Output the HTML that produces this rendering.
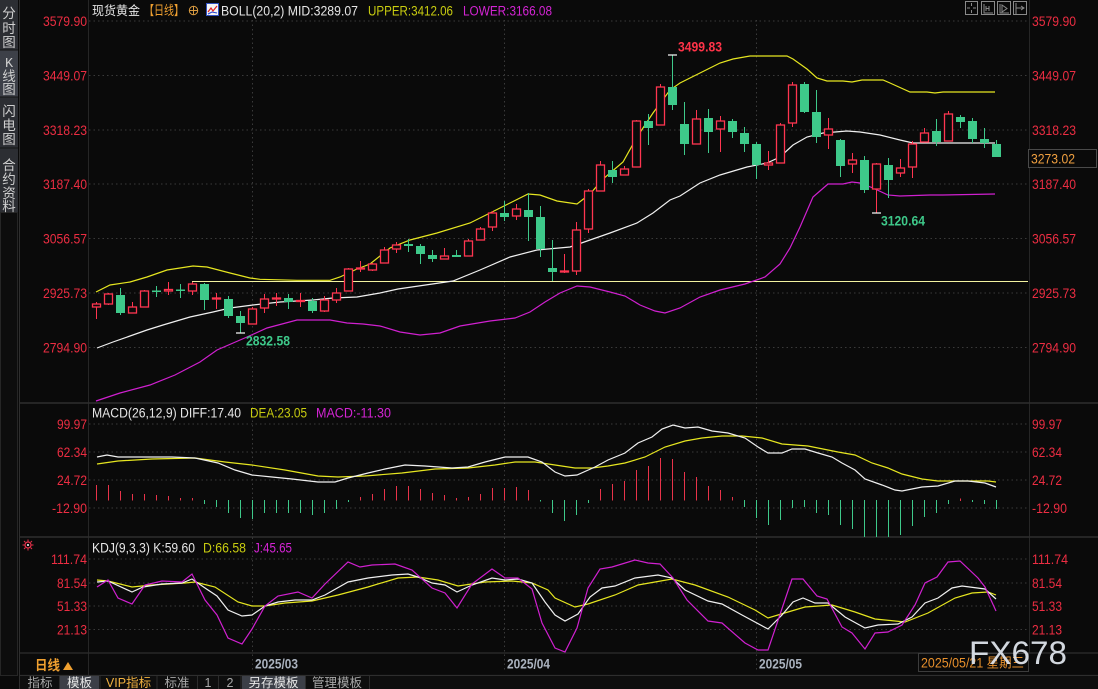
<!DOCTYPE html>
<html><head><meta charset="utf-8"><style>
html,body{margin:0;padding:0;background:#0a0a0a;}
svg{display:block;}
text{font-family:"Liberation Sans","Noto Sans CJK SC",sans-serif;}
.ax{fill:#ec2d42;font-size:14px;}
.gr{stroke:#3a3a3a;stroke-width:1;stroke-dasharray:1.5,3;}
.g rect{fill:#3ec98a;} .g line{stroke:#3ec98a;stroke-width:1;}
.r rect{fill:#0a0a0a;stroke:#ff3550;stroke-width:1.3;} .r line{stroke:#ff3550;stroke-width:1;}
.hr line{stroke:#e8334a;stroke-width:1;} .hg line{stroke:#3ec98a;stroke-width:1;}
.sb{fill:#cfcfcf;font-size:13.5px;text-anchor:middle;}
.tab{font-size:12.5px;text-anchor:middle;fill:#a8a8a8;}
</style></head><body>
<svg width="1098" height="689" viewBox="0 0 1098 689" xmlns="http://www.w3.org/2000/svg">
<rect x="0" y="0" width="1098" height="689" fill="#0a0a0a"/>

<!-- sidebar -->
<rect x="0" y="0" width="18" height="50" fill="#2c2e33"/>
<rect x="0" y="50" width="18" height="47" fill="#3d4048"/>
<rect x="0" y="97" width="18" height="51" fill="#2c2e33"/>
<rect x="0" y="148" width="18" height="64" fill="#2c2e33"/>
<line x1="0" y1="50" x2="18" y2="50" stroke="#151515"/>
<line x1="0" y1="97" x2="18" y2="97" stroke="#151515"/>
<line x1="0" y1="148" x2="18" y2="148" stroke="#151515"/>
<rect x="0.5" y="212.5" width="17" height="463" fill="#0d0d0d" stroke="#262626"/>
<line x1="19.5" y1="0" x2="19.5" y2="689" stroke="#2e2e2e"/>
<text class="sb" x="9" y="18">分</text><text class="sb" x="9" y="33">时</text><text class="sb" x="9" y="47">图</text>
<text class="sb" x="9" y="67" style="font-family:'Liberation Mono',monospace">K</text><text class="sb" x="9" y="81">线</text><text class="sb" x="9" y="94">图</text>
<text class="sb" x="9" y="116">闪</text><text class="sb" x="9" y="130">电</text><text class="sb" x="9" y="144">图</text>
<text class="sb" x="9" y="170">合</text><text class="sb" x="9" y="184">约</text><text class="sb" x="9" y="198">资</text><text class="sb" x="9" y="211">料</text>

<!-- panel borders -->
<line x1="88.5" y1="0" x2="88.5" y2="675" stroke="#262626"/>
<line x1="1029.5" y1="0" x2="1029.5" y2="653" stroke="#262626"/>
<line x1="19" y1="403" x2="1098" y2="403" stroke="#2e2e2e" stroke-width="1.5"/>
<line x1="19" y1="537" x2="1098" y2="537" stroke="#2e2e2e" stroke-width="1.5"/>
<line x1="19" y1="653" x2="1098" y2="653" stroke="#2e2e2e" stroke-width="1.2"/>
<line x1="19" y1="675.5" x2="1098" y2="675.5" stroke="#2e2e2e" stroke-width="1.2"/>

<!-- gridlines -->
<g class="gr">
<line x1="89" y1="21" x2="1029" y2="21"/>
<line x1="89" y1="75.5" x2="1029" y2="75.5"/>
<line x1="89" y1="130" x2="1029" y2="130"/>
<line x1="89" y1="184" x2="1029" y2="184"/>
<line x1="89" y1="238.5" x2="1029" y2="238.5"/>
<line x1="89" y1="293" x2="1029" y2="293"/>
<line x1="89" y1="347.5" x2="1029" y2="347.5"/>
<line x1="89" y1="424" x2="1029" y2="424"/>
<line x1="89" y1="452" x2="1029" y2="452"/>
<line x1="89" y1="480" x2="1029" y2="480"/>
<line x1="89" y1="508" x2="1029" y2="508"/>
<line x1="89" y1="559" x2="1029" y2="559"/>
<line x1="89" y1="583" x2="1029" y2="583"/>
<line x1="89" y1="606" x2="1029" y2="606"/>
<line x1="89" y1="629.5" x2="1029" y2="629.5"/>
<line x1="252.5" y1="20" x2="252.5" y2="672"/>
<line x1="504.5" y1="20" x2="504.5" y2="672"/>
<line x1="756.5" y1="20" x2="756.5" y2="672"/>
</g>

<!-- axis labels left -->
<g class="ax" text-anchor="end" lengthAdjust="spacingAndGlyphs">
<text x="87" y="26" textLength="44" lengthAdjust="spacingAndGlyphs">3579.90</text><text x="87" y="80.5" textLength="44" lengthAdjust="spacingAndGlyphs">3449.07</text><text x="87" y="135" textLength="44" lengthAdjust="spacingAndGlyphs">3318.23</text>
<text x="87" y="189" textLength="44" lengthAdjust="spacingAndGlyphs">3187.40</text><text x="87" y="243.5" textLength="44" lengthAdjust="spacingAndGlyphs">3056.57</text><text x="87" y="298" textLength="44" lengthAdjust="spacingAndGlyphs">2925.73</text><text x="87" y="352.5" textLength="44" lengthAdjust="spacingAndGlyphs">2794.90</text>
<text x="87" y="429" textLength="30" lengthAdjust="spacingAndGlyphs">99.97</text><text x="87" y="457" textLength="30" lengthAdjust="spacingAndGlyphs">62.34</text><text x="87" y="485" textLength="30" lengthAdjust="spacingAndGlyphs">24.72</text><text x="87" y="513" textLength="35" lengthAdjust="spacingAndGlyphs">-12.90</text>
<text x="87" y="564" textLength="36" lengthAdjust="spacingAndGlyphs">111.74</text><text x="87" y="588" textLength="30" lengthAdjust="spacingAndGlyphs">81.54</text><text x="87" y="611" textLength="30" lengthAdjust="spacingAndGlyphs">51.33</text><text x="87" y="634.5" textLength="30" lengthAdjust="spacingAndGlyphs">21.13</text>
</g>
<!-- axis labels right -->
<g class="ax">
<text x="1032" y="26" textLength="44" lengthAdjust="spacingAndGlyphs">3579.90</text><text x="1032" y="80.5" textLength="44" lengthAdjust="spacingAndGlyphs">3449.07</text><text x="1032" y="135" textLength="44" lengthAdjust="spacingAndGlyphs">3318.23</text>
<text x="1032" y="189" textLength="44" lengthAdjust="spacingAndGlyphs">3187.40</text><text x="1032" y="243.5" textLength="44" lengthAdjust="spacingAndGlyphs">3056.57</text><text x="1032" y="298" textLength="44" lengthAdjust="spacingAndGlyphs">2925.73</text><text x="1032" y="352.5" textLength="44" lengthAdjust="spacingAndGlyphs">2794.90</text>
<text x="1032" y="429" textLength="30" lengthAdjust="spacingAndGlyphs">99.97</text><text x="1032" y="457" textLength="30" lengthAdjust="spacingAndGlyphs">62.34</text><text x="1032" y="485" textLength="30" lengthAdjust="spacingAndGlyphs">24.72</text><text x="1032" y="513" textLength="35" lengthAdjust="spacingAndGlyphs">-12.90</text>
<text x="1032" y="564" textLength="36" lengthAdjust="spacingAndGlyphs">111.74</text><text x="1032" y="588" textLength="30" lengthAdjust="spacingAndGlyphs">81.54</text><text x="1032" y="611" textLength="30" lengthAdjust="spacingAndGlyphs">51.33</text><text x="1032" y="634.5" textLength="30" lengthAdjust="spacingAndGlyphs">21.13</text>
</g>
<rect x="1028.5" y="149.5" width="68" height="18" fill="#0a0a0a" stroke="#4a4a4a"/>
<text x="1031" y="163.5" style="font-size:14px;fill:#f0a040" textLength="44" lengthAdjust="spacingAndGlyphs">3273.02</text>

<!-- title -->
<text x="92" y="15" style="font-size:12.5px;fill:#e6e6e6" textLength="48" lengthAdjust="spacingAndGlyphs">现货黄金</text>
<text x="144" y="15" style="font-size:13px;fill:#f0a030" textLength="40" lengthAdjust="spacingAndGlyphs">【日线】</text>
<circle cx="193.5" cy="10.5" r="4.2" fill="none" stroke="#d89a40" stroke-width="1"/>
<line x1="189" y1="10.5" x2="198" y2="10.5" stroke="#d89a40"/><line x1="193.5" y1="6" x2="193.5" y2="15" stroke="#d89a40"/>
<rect x="206.5" y="3.5" width="12" height="12" fill="#f4f4f4" stroke="#3050c0"/>
<polyline points="208,12 211,8 213,11 217,6" fill="none" stroke="#e02020" stroke-width="1.2"/>
<polyline points="208,14 212,12 217,13" fill="none" stroke="#2040d0" stroke-width="1"/>
<text x="221" y="15.5" style="font-size:13.5px;fill:#e6e6e6" textLength="137" lengthAdjust="spacingAndGlyphs">BOLL(20,2) MID:3289.07</text>
<text x="368" y="15.5" style="font-size:13.5px;fill:#c8cc10" textLength="85" lengthAdjust="spacingAndGlyphs">UPPER:3412.06</text>
<text x="463" y="15.5" style="font-size:13.5px;fill:#d424d4" textLength="89" lengthAdjust="spacingAndGlyphs">LOWER:3166.08</text>

<!-- top right icons -->
<g fill="none" stroke="#8a8a8a" stroke-width="1">
<rect x="965.5" y="1.5" width="12" height="13"/><rect x="981.5" y="1.5" width="13" height="13"/><rect x="997.5" y="1.5" width="13" height="13"/><rect x="1013.5" y="1.5" width="13" height="13"/>
<path d="M971.5 3v3M971.5 10v3M967 8h3M973 8h3"/>
<path d="M984 4v9h9M986 6v5M989 6v5M986 8.5h3"/>
<path d="M1000 4v9h9M1002 5l5 3.5-5 3.5z"/>
<path d="M1016 3v11M1016 8h8M1021 6l3 2-3 2"/>
</g>

<!-- horizontal line -->
<line x1="192" y1="281.5" x2="1028" y2="281.5" stroke="#f2f2a0" stroke-width="1"/>

<!-- Bollinger -->
<polyline fill="none" stroke="#e6e620" stroke-width="1.2" points="96,292 110,285 130,282 147,277 167,270 193,266 207,267 230,273 250,278 260,279.3 297,280.3 330,280.3 340,277 357,269 370,264 390,248 410,240 437,233 470,223 490,213 510,203 528,194 540,195 557,201 577,204 590,194 603,179 623,162 637,137 653,113 670,90 680,83 700,73 720,63 733,59 750,56 787,56 793,59 807,69 817,78 827,81 843,81 852,82 862,80 883,80 890,83 910,92 927,92 935,93 943,92 995,92"/>
<polyline fill="none" stroke="#f0f0f0" stroke-width="1.2" points="97,348 113,342 147,330 163,325 190,317 213,312 230,308 253,305 280,302 313,300 333,298 357,297 380,293 398,289 453,281 480,270 510,257 537,250 570,247 590,240 610,233 637,223 653,213 670,200 680,196 700,183 720,175 747,167 767,163 780,157 793,145 807,137 823,133 847,131 860,132 880,135 900,140 913,143 995,143"/>
<polyline fill="none" stroke="#d020d0" stroke-width="1.2" points="96,401 120,393 150,385 175,375 200,362 217,350 247,337 267,328 297,320 330,320 347,323 363,324 380,326 400,332 420,335 440,333 460,326 490,321 515,318 530,312 545,302 560,293 577,286 590,287 610,292 625,296 640,305 655,311 665,313 680,308 700,297 720,290 745,284 765,277 780,264 790,248 800,227 813,197 828,184 843,184 852,182 860,183 873,188 888,195 900,196 930,195 943,195 995,194"/>

<!-- candles green -->
<g class="g">
<line x1="120.5" y1="288" x2="120.5" y2="315"/><rect x="116" y="295" width="9" height="18"/>
<line x1="156.5" y1="286" x2="156.5" y2="297"/><rect x="152" y="290.5" width="9" height="1.5"/>
<line x1="180.5" y1="284" x2="180.5" y2="298"/><rect x="176" y="289.5" width="9" height="1.5"/>
<line x1="204.5" y1="283" x2="204.5" y2="310"/><rect x="200" y="284" width="9" height="16"/>
<line x1="228.5" y1="296" x2="228.5" y2="318"/><rect x="224" y="299" width="9" height="17"/>
<line x1="240.5" y1="311" x2="240.5" y2="333"/><rect x="236" y="316" width="9" height="7"/>
<line x1="288.5" y1="294" x2="288.5" y2="309"/><rect x="284" y="298" width="9" height="4"/>
<line x1="312.5" y1="298" x2="312.5" y2="313"/><rect x="308" y="301" width="9" height="10"/>
<line x1="408.5" y1="239" x2="408.5" y2="252"/><rect x="404" y="244" width="9" height="2"/>
<line x1="420.5" y1="244" x2="420.5" y2="264"/><rect x="416" y="246" width="9" height="8"/>
<line x1="432.5" y1="250" x2="432.5" y2="262"/><rect x="428" y="255" width="9" height="4"/>
<line x1="456.5" y1="250" x2="456.5" y2="257"/><rect x="452" y="255" width="9" height="2"/>
<line x1="504.5" y1="201" x2="504.5" y2="221"/><rect x="500" y="213" width="9" height="4"/>
<line x1="528.5" y1="193" x2="528.5" y2="241"/><rect x="524" y="210" width="9" height="7"/>
<line x1="540.5" y1="206" x2="540.5" y2="257"/><rect x="536" y="217" width="9" height="32"/>
<line x1="552.5" y1="240" x2="552.5" y2="281"/><rect x="548" y="268" width="9" height="4"/>
<line x1="612.5" y1="161" x2="612.5" y2="183"/><rect x="608" y="170" width="9" height="7"/>
<line x1="648.5" y1="114" x2="648.5" y2="145"/><rect x="644" y="121" width="9" height="7"/>
<line x1="672.5" y1="55" x2="672.5" y2="110"/><rect x="668" y="87" width="9" height="18"/>
<line x1="684.5" y1="102" x2="684.5" y2="155"/><rect x="680" y="124" width="9" height="20"/>
<line x1="708.5" y1="109" x2="708.5" y2="153"/><rect x="704" y="118" width="9" height="14"/>
<line x1="732.5" y1="119" x2="732.5" y2="138"/><rect x="728" y="121" width="9" height="11"/>
<line x1="744.5" y1="127" x2="744.5" y2="152"/><rect x="740" y="133" width="9" height="11"/>
<line x1="756.5" y1="142" x2="756.5" y2="179"/><rect x="752" y="144" width="9" height="21"/>
<line x1="804.5" y1="82" x2="804.5" y2="113"/><rect x="800" y="84" width="9" height="28"/>
<line x1="816.5" y1="90" x2="816.5" y2="143"/><rect x="812" y="112" width="9" height="25"/>
<line x1="840.5" y1="139" x2="840.5" y2="177"/><rect x="836" y="140" width="9" height="26"/>
<line x1="864.5" y1="156" x2="864.5" y2="193"/><rect x="860" y="160" width="9" height="30"/>
<line x1="888.5" y1="158" x2="888.5" y2="198"/><rect x="884" y="165" width="9" height="15"/>
<line x1="936.5" y1="119" x2="936.5" y2="146"/><rect x="932" y="131" width="9" height="11"/>
<line x1="960.5" y1="115" x2="960.5" y2="128"/><rect x="956" y="117" width="9" height="5"/>
<line x1="972.5" y1="118" x2="972.5" y2="143"/><rect x="968" y="121" width="9" height="18"/>
<line x1="984.5" y1="128" x2="984.5" y2="148"/><rect x="980" y="139" width="9" height="4"/>
<line x1="996.5" y1="140" x2="996.5" y2="157"/><rect x="992" y="144" width="9" height="13"/>
</g>
<!-- candles red -->
<g class="r">
<line x1="96.5" y1="302" x2="96.5" y2="319"/><rect x="92.5" y="304" width="8" height="3"/>
<line x1="108.5" y1="293" x2="108.5" y2="305"/><rect x="104.5" y="294" width="8" height="10"/>
<line x1="132.5" y1="302" x2="132.5" y2="313"/><rect x="128.5" y="307" width="8" height="6"/>
<line x1="144.5" y1="290" x2="144.5" y2="307"/><rect x="140.5" y="291" width="8" height="16"/>
<line x1="168.5" y1="282" x2="168.5" y2="295"/><rect x="164.5" y="289.5" width="8" height="1.5"/>
<line x1="192.5" y1="282" x2="192.5" y2="295"/><rect x="188.5" y="284" width="8" height="7"/>
<line x1="216.5" y1="293" x2="216.5" y2="309"/><rect x="212.5" y="298" width="8" height="1"/>
<line x1="252.5" y1="307" x2="252.5" y2="324"/><rect x="248.5" y="309" width="8" height="15"/>
<line x1="264.5" y1="294" x2="264.5" y2="313"/><rect x="260.5" y="299" width="8" height="9"/>
<line x1="276.5" y1="293" x2="276.5" y2="306"/><rect x="272.5" y="298" width="8" height="1"/>
<line x1="300.5" y1="293" x2="300.5" y2="307"/><rect x="296.5" y="300.5" width="8" height="1"/>
<line x1="324.5" y1="296" x2="324.5" y2="312"/><rect x="320.5" y="300" width="8" height="11"/>
<line x1="336.5" y1="288" x2="336.5" y2="303"/><rect x="332.5" y="293" width="8" height="7"/>
<line x1="348.5" y1="268" x2="348.5" y2="291"/><rect x="344.5" y="269" width="8" height="22"/>
<line x1="360.5" y1="261" x2="360.5" y2="272"/><rect x="356.5" y="268" width="8" height="1"/>
<line x1="372.5" y1="263" x2="372.5" y2="271"/><rect x="368.5" y="264" width="8" height="6"/>
<line x1="384.5" y1="247" x2="384.5" y2="263"/><rect x="380.5" y="250" width="8" height="13"/>
<line x1="396.5" y1="242" x2="396.5" y2="253"/><rect x="392.5" y="245" width="8" height="4"/>
<line x1="444.5" y1="248" x2="444.5" y2="259"/><rect x="440.5" y="256" width="8" height="3"/>
<line x1="468.5" y1="239" x2="468.5" y2="256"/><rect x="464.5" y="241" width="8" height="15"/>
<line x1="480.5" y1="227" x2="480.5" y2="240"/><rect x="476.5" y="229" width="8" height="11"/>
<line x1="492.5" y1="211" x2="492.5" y2="231"/><rect x="488.5" y="213" width="8" height="14"/>
<line x1="516.5" y1="204" x2="516.5" y2="220"/><rect x="512.5" y="209" width="8" height="7"/>
<line x1="564.5" y1="254" x2="564.5" y2="273"/><rect x="560.5" y="271" width="8" height="1"/>
<line x1="576.5" y1="222" x2="576.5" y2="275"/><rect x="572.5" y="230" width="8" height="41"/>
<line x1="588.5" y1="189" x2="588.5" y2="233"/><rect x="584.5" y="191" width="8" height="38"/>
<line x1="600.5" y1="161" x2="600.5" y2="191"/><rect x="596.5" y="165" width="8" height="26"/>
<line x1="624.5" y1="166" x2="624.5" y2="175"/><rect x="620.5" y="169" width="8" height="6"/>
<line x1="636.5" y1="120" x2="636.5" y2="167"/><rect x="632.5" y="121" width="8" height="46"/>
<line x1="660.5" y1="84" x2="660.5" y2="125"/><rect x="656.5" y="87" width="8" height="38"/>
<line x1="696.5" y1="110" x2="696.5" y2="144"/><rect x="692.5" y="119" width="8" height="25"/>
<line x1="720.5" y1="116" x2="720.5" y2="152"/><rect x="716.5" y="121" width="8" height="8"/>
<line x1="768.5" y1="151" x2="768.5" y2="170"/><rect x="764.5" y="163" width="8" height="2"/>
<line x1="780.5" y1="123" x2="780.5" y2="163"/><rect x="776.5" y="125" width="8" height="38"/>
<line x1="792.5" y1="82" x2="792.5" y2="127"/><rect x="788.5" y="85" width="8" height="38"/>
<line x1="828.5" y1="118" x2="828.5" y2="149"/><rect x="824.5" y="129" width="8" height="6"/>
<line x1="852.5" y1="153" x2="852.5" y2="173"/><rect x="848.5" y="160" width="8" height="4"/>
<line x1="876.5" y1="163" x2="876.5" y2="213"/><rect x="872.5" y="164" width="8" height="25"/>
<line x1="900.5" y1="159" x2="900.5" y2="177"/><rect x="896.5" y="168" width="8" height="5"/>
<line x1="912.5" y1="141" x2="912.5" y2="178"/><rect x="908.5" y="144" width="8" height="23"/>
<line x1="924.5" y1="128" x2="924.5" y2="142"/><rect x="920.5" y="133" width="8" height="9"/>
<line x1="948.5" y1="111" x2="948.5" y2="141"/><rect x="944.5" y="114" width="8" height="27"/>
</g>
<!-- markers -->
<g stroke="#ffffff" stroke-width="1.2">
<line x1="668" y1="55" x2="677" y2="55"/>
<line x1="236" y1="333" x2="245" y2="333"/>
<line x1="872" y1="213" x2="881" y2="213"/>
</g>
<text x="678" y="51.5" style="font-size:13.5px;fill:#ff3348;font-weight:bold" textLength="44" lengthAdjust="spacingAndGlyphs">3499.83</text>
<text x="246" y="345.5" style="font-size:13.5px;fill:#3ec98a;font-weight:bold" textLength="44" lengthAdjust="spacingAndGlyphs">2832.58</text>
<text x="881" y="225.5" style="font-size:13.5px;fill:#3ec98a;font-weight:bold" textLength="44" lengthAdjust="spacingAndGlyphs">3120.64</text>

<!-- MACD -->
<text x="92" y="417.5" style="font-size:13.5px;fill:#e6e6e6" textLength="149" lengthAdjust="spacingAndGlyphs">MACD(26,12,9) DIFF:17.40</text>
<text x="250" y="417.5" style="font-size:13.5px;fill:#c8cc10" textLength="57" lengthAdjust="spacingAndGlyphs">DEA:23.05</text>
<text x="316" y="417.5" style="font-size:13.5px;fill:#d424d4" textLength="75" lengthAdjust="spacingAndGlyphs">MACD:-11.30</text>
<g class="hr">
<line x1="96.5" y1="500.5" x2="96.5" y2="485"/><line x1="108.5" y1="500.5" x2="108.5" y2="485"/><line x1="120.5" y1="500.5" x2="120.5" y2="491"/>
<line x1="132.5" y1="500.5" x2="132.5" y2="494"/><line x1="144.5" y1="500.5" x2="144.5" y2="494"/><line x1="156.5" y1="500.5" x2="156.5" y2="495"/>
<line x1="168.5" y1="500.5" x2="168.5" y2="496"/><line x1="180.5" y1="500.5" x2="180.5" y2="498"/><line x1="192.5" y1="500.5" x2="192.5" y2="498"/>
<line x1="360.5" y1="500.5" x2="360.5" y2="497"/><line x1="372.5" y1="500.5" x2="372.5" y2="494"/><line x1="384.5" y1="500.5" x2="384.5" y2="489"/>
<line x1="396.5" y1="500.5" x2="396.5" y2="486"/><line x1="408.5" y1="500.5" x2="408.5" y2="486"/><line x1="420.5" y1="500.5" x2="420.5" y2="489"/>
<line x1="432.5" y1="500.5" x2="432.5" y2="493"/><line x1="444.5" y1="500.5" x2="444.5" y2="495"/><line x1="456.5" y1="500.5" x2="456.5" y2="498"/>
<line x1="468.5" y1="500.5" x2="468.5" y2="497"/><line x1="480.5" y1="500.5" x2="480.5" y2="494"/><line x1="492.5" y1="500.5" x2="492.5" y2="488"/>
<line x1="504.5" y1="500.5" x2="504.5" y2="488"/><line x1="516.5" y1="500.5" x2="516.5" y2="487"/><line x1="528.5" y1="500.5" x2="528.5" y2="490"/>
<line x1="600.5" y1="500.5" x2="600.5" y2="489"/><line x1="612.5" y1="500.5" x2="612.5" y2="484"/><line x1="624.5" y1="500.5" x2="624.5" y2="481"/>
<line x1="636.5" y1="500.5" x2="636.5" y2="470"/><line x1="648.5" y1="500.5" x2="648.5" y2="466"/><line x1="660.5" y1="500.5" x2="660.5" y2="458"/>
<line x1="672.5" y1="500.5" x2="672.5" y2="459"/><line x1="684.5" y1="500.5" x2="684.5" y2="472"/><line x1="696.5" y1="500.5" x2="696.5" y2="477"/>
<line x1="708.5" y1="500.5" x2="708.5" y2="486"/><line x1="720.5" y1="500.5" x2="720.5" y2="490"/><line x1="732.5" y1="500.5" x2="732.5" y2="497"/>
<line x1="960.5" y1="501" x2="960.5" y2="498.5"/>
</g>
<g class="hg">
<line x1="204.5" y1="500" x2="204.5" y2="504"/><line x1="216.5" y1="500" x2="216.5" y2="507"/><line x1="228.5" y1="500" x2="228.5" y2="513"/>
<line x1="240.5" y1="500" x2="240.5" y2="518"/><line x1="252.5" y1="500" x2="252.5" y2="519"/><line x1="264.5" y1="500" x2="264.5" y2="513"/>
<line x1="276.5" y1="500" x2="276.5" y2="513"/><line x1="288.5" y1="500" x2="288.5" y2="513"/><line x1="300.5" y1="500" x2="300.5" y2="513"/>
<line x1="312.5" y1="500" x2="312.5" y2="515"/><line x1="324.5" y1="500" x2="324.5" y2="513"/><line x1="336.5" y1="500" x2="336.5" y2="509"/>
<line x1="348.5" y1="500" x2="348.5" y2="502"/>
<line x1="540.5" y1="500" x2="540.5" y2="501.5"/><line x1="552.5" y1="500" x2="552.5" y2="513"/><line x1="564.5" y1="500" x2="564.5" y2="521"/>
<line x1="576.5" y1="500" x2="576.5" y2="515"/><line x1="588.5" y1="500" x2="588.5" y2="503"/>
<line x1="744.5" y1="500" x2="744.5" y2="507"/><line x1="756.5" y1="500" x2="756.5" y2="518"/><line x1="768.5" y1="500" x2="768.5" y2="525"/>
<line x1="780.5" y1="500" x2="780.5" y2="520"/><line x1="792.5" y1="500" x2="792.5" y2="508"/><line x1="804.5" y1="500" x2="804.5" y2="507"/>
<line x1="816.5" y1="500" x2="816.5" y2="513"/><line x1="828.5" y1="500" x2="828.5" y2="515"/><line x1="840.5" y1="500" x2="840.5" y2="525"/>
<line x1="852.5" y1="500" x2="852.5" y2="529"/><line x1="864.5" y1="500" x2="864.5" y2="537"/><line x1="876.5" y1="500" x2="876.5" y2="537"/>
<line x1="888.5" y1="500" x2="888.5" y2="537"/><line x1="900.5" y1="500" x2="900.5" y2="535"/><line x1="912.5" y1="500" x2="912.5" y2="526"/>
<line x1="924.5" y1="500" x2="924.5" y2="517"/><line x1="936.5" y1="500" x2="936.5" y2="513"/><line x1="948.5" y1="500" x2="948.5" y2="504"/>
<line x1="972.5" y1="500" x2="972.5" y2="502"/><line x1="984.5" y1="500" x2="984.5" y2="504"/><line x1="996.5" y1="500" x2="996.5" y2="509"/>
</g>
<polyline fill="none" stroke="#e6e620" stroke-width="1.2" points="97,464 118,461 152,459 195,458 225,462 252,465 285,470 318,476 338,477 365,476 402,473 435,469 468,468 495,465 515,462 535,462 555,465 575,468 592,468 608,466 625,463 645,457 665,447 685,441 702,438 722,436 742,436 762,438 782,444 808,446 838,452 855,455 872,463 888,468 902,474 922,479 938,481 988,481 996,482"/>
<polyline fill="none" stroke="#f0f0f0" stroke-width="1.2" points="97,457 107,455 118,457 138,457 172,457 195,458 218,463 235,470 252,475 272,477 292,479 318,482 335,482 348,478 368,473 385,469 405,465 425,466 452,468 468,467 485,462 505,457 528,457 542,462 555,472 565,476 577,475 595,467 608,460 625,453 638,443 652,437 662,429 673,425 685,428 698,427 712,431 728,433 745,438 758,447 768,453 782,453 792,449 805,449 818,453 832,457 842,463 855,470 865,479 882,485 895,490 902,491 922,487 938,486 955,481 968,481 985,483 996,487"/>

<!-- KDJ -->
<g transform="translate(28,545)">
<circle r="3" fill="none" stroke="#e8304a" stroke-width="1.2"/><circle r="1" fill="#ffffff"/>
<path d="M0-5.5v2M0 3.5v2M-5.5 0h2M3.5 0h2M-4-4l1.4 1.4M2.6 2.6l1.4 1.4M4-4l-1.4 1.4M-2.6 2.6l-1.4 1.4" stroke="#e8304a" stroke-width="1"/>
</g>
<text x="92" y="552.5" style="font-size:13.5px;fill:#e6e6e6" textLength="103" lengthAdjust="spacingAndGlyphs">KDJ(9,3,3) K:59.60</text>
<text x="203" y="552.5" style="font-size:13.5px;fill:#c8cc10" textLength="43" lengthAdjust="spacingAndGlyphs">D:66.58</text>
<text x="254" y="552.5" style="font-size:13.5px;fill:#d424d4" textLength="38" lengthAdjust="spacingAndGlyphs">J:45.65</text>
<svg x="89" y="538" width="940" height="115" viewBox="89 538 940 115" overflow="hidden">
<polyline fill="none" stroke="#e6e620" stroke-width="1.2" points="97,580 108,581 132,587 152,585 185,583 195,582 215,587 238,602 252,606 265,606 285,603 312,601 338,595 368,587 398,578 418,577 438,580 458,586 485,582 512,581 532,583 548,590 555,598 575,607 588,604 615,595 638,585 672,579 695,585 728,597 755,610 768,618 788,612 805,607 832,605 855,612 875,619 905,622 928,613 955,598 972,593 988,592 996,595"/>
<polyline fill="none" stroke="#f0f0f0" stroke-width="1.2" points="97,582 108,581 132,592 143,587 162,584 182,583 192,579 205,588 217,596 228,610 242,616 252,615 265,606 278,602 295,600 312,600 325,595 348,582 368,578 392,575 408,574 418,577 432,583 445,585 457,592 472,585 492,578 505,580 518,579 532,583 545,602 555,615 565,621 578,614 590,597 602,588 615,586 635,578 658,575 672,578 685,590 708,601 722,604 742,615 768,629 782,615 793,602 803,598 815,603 828,603 845,617 865,628 878,625 898,624 912,617 925,603 938,598 952,588 962,586 985,589 996,599"/>
<polyline fill="none" stroke="#d020d0" stroke-width="1.2" points="97,587 108,580 118,598 132,604 145,585 162,581 182,582 192,574 205,600 217,615 228,638 242,644 252,629 265,606 278,596 298,592 312,598 325,584 348,562 360,567 372,565 395,564 412,570 432,588 445,593 457,608 472,584 492,569 505,578 518,578 532,589 542,623 555,648 565,652 577,628 588,588 600,569 612,567 635,560 648,563 660,564 673,578 687,600 708,621 722,623 745,643 758,650 768,650 792,579 803,579 817,596 827,599 842,627 852,633 865,649 875,633 888,632 902,625 915,605 925,583 937,577 948,562 960,561 978,578 985,587 996,611"/>
</svg>

<!-- date axis -->
<text x="35" y="670" style="font-size:13.5px;fill:#f0a030;font-weight:bold" textLength="25" lengthAdjust="spacingAndGlyphs">日线</text>
<path d="M63 670 L68 662 L73 670 Z" fill="#f0a030"/>
<g style="font-size:13.5px;fill:#aab2be;font-weight:bold">
<text x="255" y="668.5" textLength="43" lengthAdjust="spacingAndGlyphs">2025/03</text>
<text x="507" y="668.5" textLength="43" lengthAdjust="spacingAndGlyphs">2025/04</text>
<text x="759" y="668.5" textLength="43" lengthAdjust="spacingAndGlyphs">2025/05</text>
</g>
<rect x="918.5" y="653.5" width="110" height="18" fill="#0a0a0a" stroke="#3c3c3c"/>
<text x="921" y="667.5" style="font-size:13.5px;fill:#e8902c" textLength="103" lengthAdjust="spacingAndGlyphs">2025/05/21 星期三</text>
<text x="969" y="664" style="font-size:32px;fill:#dde2ea;opacity:0.95" textLength="98" lengthAdjust="spacingAndGlyphs">FX678</text>

<!-- tab bar -->
<rect x="20" y="676" width="1078" height="13" fill="#0e0e0e"/>
<rect x="60" y="676" width="39" height="13" fill="#3c3f47"/>
<rect x="242" y="676" width="63" height="13" fill="#3c3f47"/>
<g stroke="#2c2c2c">
<line x1="59.5" y1="676" x2="59.5" y2="689"/><line x1="100" y1="676" x2="100" y2="689"/><line x1="157" y1="676" x2="157" y2="689"/>
<line x1="197.5" y1="676" x2="197.5" y2="689"/><line x1="218.5" y1="676" x2="218.5" y2="689"/><line x1="241" y1="676" x2="241" y2="689"/>
<line x1="305.5" y1="676" x2="305.5" y2="689"/><line x1="369.5" y1="676" x2="369.5" y2="689"/>
</g>
<text class="tab" x="40" y="687">指标</text>
<text class="tab" x="79.5" y="687" style="fill:#e8e8e8">模板</text>
<text class="tab" x="128.5" y="687" style="fill:#f0b040">VIP指标</text>
<text class="tab" x="177" y="687">标准</text>
<text class="tab" x="208" y="687">1</text>
<text class="tab" x="230" y="687">2</text>
<text class="tab" x="273.5" y="687" style="fill:#e8e8e8">另存模板</text>
<text class="tab" x="337" y="687">管理模板</text>
</svg>
</body></html>
